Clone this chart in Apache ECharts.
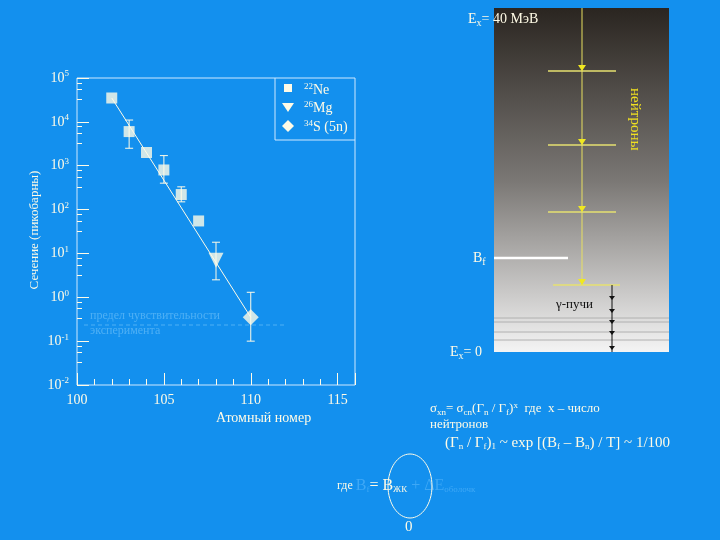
<!DOCTYPE html><html><head><meta charset="utf-8">
<script src="https://cdn.jsdelivr.net/npm/echarts@6/dist/echarts.min.js"></script>
<style>html,body{margin:0;background:#1390ee}#c{width:720px;height:540px}</style></head><body><div id="c"></div><script>
const neX=[102,103,104,105,106,107], neY=[35000,6000,2000,800,220,55];
const mgX=[108], mgY=[7];
const sX=[110], sY=[0.35];
const errBars=[[103,2500,11000],[105,400,1700],[106,150,330],[108,2.5,18],[110,0.1,1.3]];
const lineX=[102,110], lineY=[35000,0.35];
const T='#fffbe6', F='Liberation Serif';
const chart=echarts.init(document.getElementById('c'));
const expo=v=>Math.round(Math.log10(v));
function rect(x1,y1,x2,y2,fill){return {type:'rect',shape:{x:x1,y:y1,width:x2-x1,height:y2-y1},style:{fill}};}
function ln(x1,y1,x2,y2,c,w){return {type:'line',shape:{x1,y1,x2,y2},style:{stroke:c,lineWidth:w||1}};}
function tri(x,y,c){return {type:'polygon',shape:{points:[[x-4,y-6],[x+4,y-6],[x,y]]},style:{fill:c}};}
function txt(x,y,text,rich,extra){return Object.assign({type:'text',x,y,style:{text,fill:T,font:'14px '+F,rich:rich||{}}},extra||{});}
const g=[];
g.push({type:'rect',shape:{x:494,y:8,width:175,height:344},style:{fill:new echarts.graphic.LinearGradient(0,0,0,1,[{offset:0,color:'#2a2520'},{offset:0.5,color:'#7a7774'},{offset:1,color:'#f4f4f4'}])}});
g.push(ln(582,8,582,285,'#e8e060',1));
[71,145,212].forEach(y=>{g.push(ln(548,y,616,y,'#e6e070',1.5));g.push(tri(582,y,'#f0e820'));});
g.push(ln(553,285,620,285,'#e6e070',1.5));g.push(tri(582,285,'#f0e820'));
g.push(ln(494,258,568,258,'#ffffff',2.5));
[318,322,332,340].forEach(y=>g.push(ln(494,y,669,y,'#b0b0b0',1)));
g.push(ln(612,285,612,352,'#111',1));
[300,313,324,335,350].forEach(y=>g.push({type:'polygon',shape:{points:[[609,y-4],[615,y-4],[612,y]]},style:{fill:'#111'}}));
g.push(txt(468,10,'E{s|x}= 40 МэВ',{s:{fontSize:10,verticalAlign:'bottom',padding:[8,0,0,0],fill:T,fontFamily:F}}));
g.push(txt(642,88,'нейтроны',{},{rotation:-Math.PI/2,style:{text:'нейтроны',fill:'#f0e020',font:'15px '+F}}));
g.push(txt(473,249,'B{s|f}',{s:{fontSize:10,padding:[8,0,0,0],fill:T,fontFamily:F}},{}));
g.push(txt(556,298,'γ-пучи',{},{style:{text:'γ-пучи',fill:'#111',font:'13px '+F}}));
g.push(txt(450,343,'E{s|x}= 0',{s:{fontSize:10,padding:[8,0,0,0],fill:T,fontFamily:F}}));
g.push(ln(275,78,275,140,'#cfe8ff',1));g.push(ln(275,140,355,140,'#cfe8ff',1));
g.push(rect(284,84,292,92,T));
g.push({type:'polygon',shape:{points:[[282,103],[294,103],[288,112]]},style:{fill:T}});
g.push({type:'polygon',shape:{points:[[288,120],[294,126],[288,132],[282,126]]},style:{fill:T}});
const sr={s:{fontSize:9,padding:[0,0,7,0],fill:T,fontFamily:F}};
g.push(txt(304,82,'{s|22}Ne',sr));g.push(txt(304,100,'{s|26}Mg',sr));g.push(txt(304,119,'{s|34}S (5n)',sr));
g.push(txt(90,308,'',{},{style:{text:'предел чувствительности\nэксперимента',fill:'#4fb0f5',font:'12px '+F,lineHeight:15}}));
g.push(txt(35,230,'',{},{rotation:Math.PI/2,style:{text:'Сечение (пикобарны)',fill:T,font:'13px '+F,align:'center',verticalAlign:'middle'}}));
g.push(txt(216,411,'',{},{style:{text:'Атомный номер',fill:T,font:'14px '+F}}));
const sb={s:{fontSize:9,padding:[7,0,0,0],fill:T,fontFamily:F},p:{fontSize:9,padding:[0,0,7,0],fill:T,fontFamily:F}};
g.push(txt(430,401,'',sb,{style:{text:'σ{s|xn}= σ{s|cn}(Γ{s|n} / Γ{s|f}){p|x}  где  x – число',fill:T,font:'13px '+F,rich:sb}}));
g.push(txt(430,418,'',{},{style:{text:'нейтронов',fill:T,font:'13px '+F}}));
g.push(txt(445,435,'',sb,{style:{text:'(Γ{s|n} / Γ{s|f}){s|1} ~ exp [(B{s|f} – B{s|n}) / T] ~ 1/100',fill:T,font:'15px '+F,rich:sb}}));
const fb={f:{fill:'#3ea8f6',fontSize:16,fontFamily:F},fs:{fill:'#3ea8f6',fontSize:9,padding:[7,0,0,0],fontFamily:F},s:{fontSize:9,padding:[7,0,0,0],fill:T,fontFamily:F},g:{fontSize:12,fill:T,fontFamily:F}};
g.push(txt(337,478,'',fb,{style:{text:'{g|где }{f|B}{fs|f}= B{s|ЖК} {f|+ ΔE}{fs|оболочк}',fill:T,font:'16px '+F,rich:fb}}));
g.push({type:'ellipse',shape:{cx:410,cy:486,rx:22,ry:32},style:{fill:'none',stroke:T,lineWidth:1}});
g.push(txt(405,520,'',{},{style:{text:'0',fill:T,font:'15px '+F}}));
g.push({type:'line',shape:{x1:84,y1:325,x2:287,y2:325},style:{stroke:'#4fb0f5',lineDash:[4,3],lineWidth:1}});
chart.setOption({
 animation:false,
 grid:{left:77,right:365,top:78,height:307,show:true,borderColor:'#cfe8ff',borderWidth:1},
 xAxis:{type:'value',min:100,max:116,interval:5,axisLine:{show:false},splitLine:{show:false},
   axisTick:{inside:true,length:12,lineStyle:{color:T}},minorTick:{show:true,splitNumber:5,length:6,lineStyle:{color:T}},
   axisLabel:{color:T,fontFamily:F,fontSize:14,formatter:v=>v<=115?v:''}},
 yAxis:{type:'log',logBase:10,min:0.01,max:100000,axisLine:{show:false},splitLine:{show:false},
   axisTick:{inside:true,length:12,lineStyle:{color:T}},minorTick:{show:true,splitNumber:4,length:5,lineStyle:{color:T}},
   axisLabel:{color:T,fontFamily:F,fontSize:14,formatter:v=>'10{e|'+expo(v)+'}',rich:{e:{fontSize:9,padding:[0,0,8,0],color:T,fontFamily:F}}}},
 graphic:{elements:g},
 series:[
  {type:'line',data:lineX.map((x,i)=>[x,lineY[i]]),symbol:'none',lineStyle:{color:T,width:1},z:1},
  {type:'custom',data:errBars,renderItem:(p,api)=>{const x=api.value(0),a=api.coord([x,api.value(1)]),b=api.coord([x,api.value(2)]);
     const st={stroke:T,lineWidth:1};return {type:'group',children:[
      {type:'line',shape:{x1:a[0],y1:a[1],x2:b[0],y2:b[1]},style:st},
      {type:'line',shape:{x1:a[0]-4,y1:a[1],x2:a[0]+4,y2:a[1]},style:st},
      {type:'line',shape:{x1:b[0]-4,y1:b[1],x2:b[0]+4,y2:b[1]},style:st}]};},z:2},
  {type:'scatter',data:neX.map((x,i)=>[x,neY[i]]),symbol:'rect',symbolSize:11,itemStyle:{color:T},z:3},
  {type:'scatter',data:mgX.map((x,i)=>[x,mgY[i]]),symbol:'triangle',symbolRotate:180,symbolSize:15,itemStyle:{color:T},z:3},
  {type:'scatter',data:sX.map((x,i)=>[x,sY[i]]),symbol:'diamond',symbolSize:16,itemStyle:{color:T},z:3}
 ]});
</script></body></html>
